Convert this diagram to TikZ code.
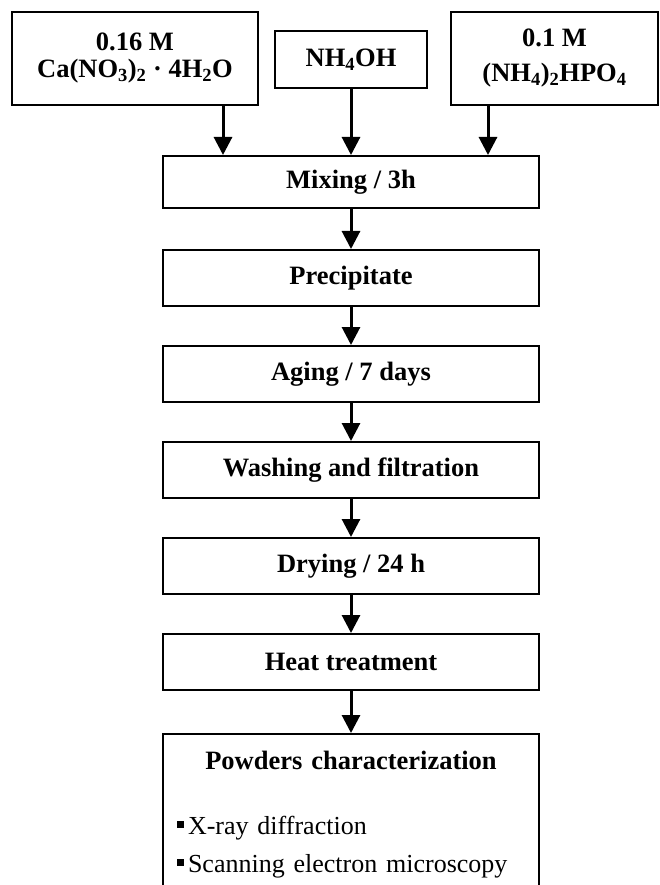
\documentclass[tikz,border=0pt]{standalone}
\usepackage{fontspec}
\setmainfont{Liberation Serif}
\usetikzlibrary{arrows.meta, positioning}

\begin{document}
\begin{tikzpicture}[x=1pt, y=1pt, node distance=96pt,
        every node/.style={font=\fontsize{26.5}{31}\selectfont\bfseries},
        stepbox/.style={draw, line width=2pt, minimum width=376pt, minimum height=56pt, inner sep=0pt},
        inbox/.style={draw, line width=2pt, inner sep=0pt, align=center},
        arr/.style={line width=3pt, -{Triangle[length=18pt, width=18pt]}}]
        \path[use as bounding box, clip] (0,0) rectangle (660,-885);

        \node (ca) [inbox, minimum width=246pt, minimum height=93pt] at (135,-58.5) {0.16 M\\[-4pt] Ca(NO\textsubscript{3})\textsubscript{2} · 4H\textsubscript{2}O};
        \node (nh) [inbox, minimum width=152pt, minimum height=57pt] at (351,-59.5) {NH\textsubscript{4}OH};
        \node (hp) [inbox, minimum width=207pt, minimum height=93pt] at (554.5,-58.5) {0.1 M\\[4pt] (NH\textsubscript{4})\textsubscript{2}HPO\textsubscript{4}};

        \node (mix) [stepbox, minimum height=52pt] at (351,-182) {Mixing / 3h};
        \node (pre) [stepbox, below of=mix] {Precipitate};
        \node (age) [stepbox, below of=pre] {Aging / 7 days};
        \node (wash) [stepbox, below of=age] {Washing and filtration};
        \node (dry) [stepbox, below of=wash] {Drying / 24 h};
        \node (heat) [stepbox, below of=dry] {Heat treatment};
        \node (pow) [stepbox, below=42pt of heat, text width=348pt, inner xsep=14pt, inner ysep=17pt] {%
            {\centering Powders characterization\par}\vspace{35pt}
            {\fontsize{26}{30}\selectfont\mdseries\raggedright
            \rule[6pt]{7pt}{7pt}\hspace{4pt}X-ray diffraction\\[8pt]
            \rule[6pt]{7pt}{7pt}\hspace{4pt}Scanning electron microscopy\par}\vspace*{30pt}};

        \draw[arr] ([xshift=-36pt]ca.south east) -- ([xshift=-36pt]ca.south east |- mix.north);
        \draw[arr] (nh) -- (mix);
        \draw[arr] ([xshift=38pt]hp.south west) -- ([xshift=38pt]hp.south west |- mix.north);
        \foreach \a/\b in {mix/pre, pre/age, age/wash, wash/dry, dry/heat, heat/pow}
            \draw[arr] (\a) -- (\b);
    \end{tikzpicture}
\end{document}
